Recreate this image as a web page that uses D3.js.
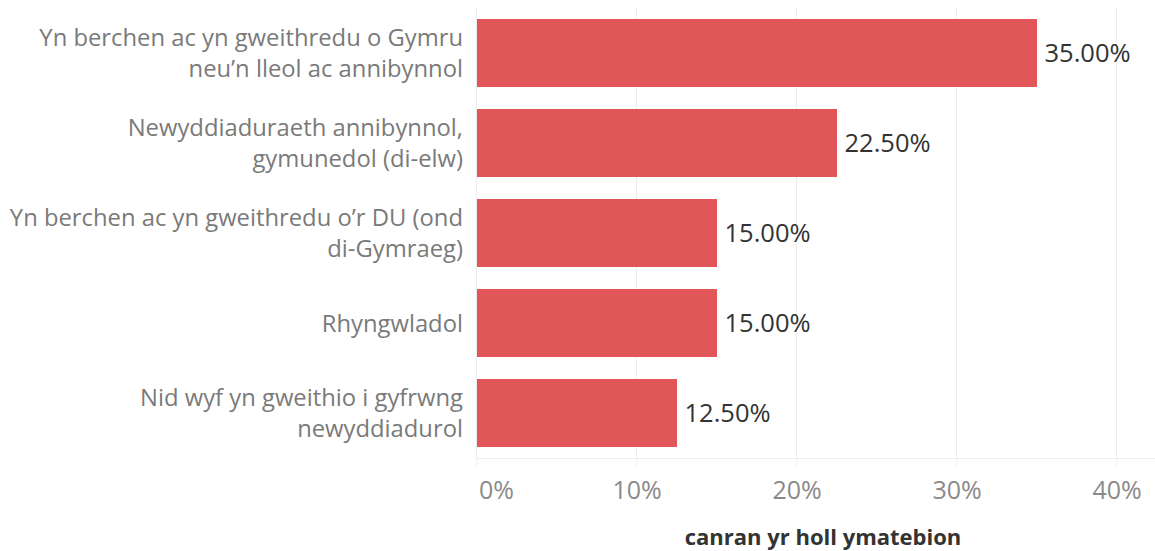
<!DOCTYPE html>
<html><head><meta charset="utf-8">
<script src="https://cdn.jsdelivr.net/npm/d3@7"></script>
<style>body{margin:0;background:#fff;} svg{display:block;}</style>
</head><body>
<script>
const categories = [
  "Yn berchen ac yn gweithredu o Gymru\nneu’n lleol ac annibynnol",
  "Newyddiaduraeth annibynnol,\ngymunedol (di-elw)",
  "Yn berchen ac yn gweithredu o’r DU (ond\ndi-Gymraeg)",
  "Rhyngwladol",
  "Nid wyf yn gweithio i gyfrwng\nnewyddiadurol"
];
const values = [35.0, 22.5, 15.0, 15.0, 12.5];
const tickValues = [0, 10, 20, 30, 40];
const axisTitle = "canran yr holl ymatebion";

const W = 1155, H = 551;
const font = "'Open Sans', 'Noto Sans', sans-serif";
const svg = d3.select("body").append("svg").attr("width", W).attr("height", H);

const x = d3.scaleLinear().domain([0, 40]).range([476.5, 1116.5]);
const y = d3.scaleBand().domain(categories).range([8, 458]).paddingInner(0.2444).paddingOuter(0.1222);

// gridlines
svg.append("g").selectAll("line").data(tickValues.slice(1)).join("line")
  .attr("x1", d => x(d)).attr("x2", d => x(d)).attr("y1", 7).attr("y2", 458)
  .attr("stroke", "#ededed").attr("stroke-width", 1);
// left axis line
svg.append("line").attr("x1", x(0)).attr("x2", x(0)).attr("y1", 7).attr("y2", 458)
  .attr("stroke", "#ededed");
// bottom axis
const xAxis = d3.axisBottom(x).tickValues(tickValues).tickFormat(d => d + "%").tickSize(8).tickPadding(15);
const gx = svg.append("g").attr("transform", "translate(0,458.5)").call(xAxis);
gx.select(".domain").attr("stroke", "#ededed").attr("d", "M476,0H1155");
gx.selectAll(".tick line").attr("stroke", "#ededed");
gx.selectAll(".tick text").attr("fill", "#8a8a8a").attr("font-family", font).attr("font-size", 25)
  .attr("text-anchor", (d, i) => i === 0 ? "start" : "middle").attr("dx", (d, i) => i === 0 ? 2 : 0);

// bars
svg.append("g").selectAll("rect").data(values).join("rect")
  .attr("x", x(0) + 0.5).attr("y", (d, i) => y(categories[i]))
  .attr("width", d => x(d) - x(0)).attr("height", y.bandwidth())
  .attr("fill", "#e15759");

// value labels
svg.append("g").selectAll("text").data(values).join("text")
  .attr("x", d => x(d) + 8).attr("y", (d, i) => y(categories[i]) + y.bandwidth() / 2)
  .attr("dy", "0.36em").attr("fill", "#333").attr("font-family", font).attr("font-size", 25.5)
  .text(d => d.toFixed(2) + "%");

// category labels
const lab = svg.append("g").selectAll("text").data(categories).join("text")
  .attr("text-anchor", "end").attr("fill", "#7a7a7a").attr("font-family", font).attr("font-size", 23.8)
  .attr("transform", d => `translate(463,${y(d) + y.bandwidth() / 2})`);
lab.each(function(d) {
  const lines = d.split("\n");
  const t = d3.select(this);
  lines.forEach((l, i) => {
    t.append("tspan").attr("x", 0).attr("y", (i - (lines.length - 1) / 2) * 31).attr("dy", "0.36em").text(l);
  });
});

// axis title
svg.append("text").attr("x", 823).attr("y", 537).attr("dy", "0.36em").attr("text-anchor", "middle")
  .attr("fill", "#333").attr("font-family", font).attr("font-weight", "bold").attr("font-size", 22)
  .text(axisTitle);
</script>
</body></html>
